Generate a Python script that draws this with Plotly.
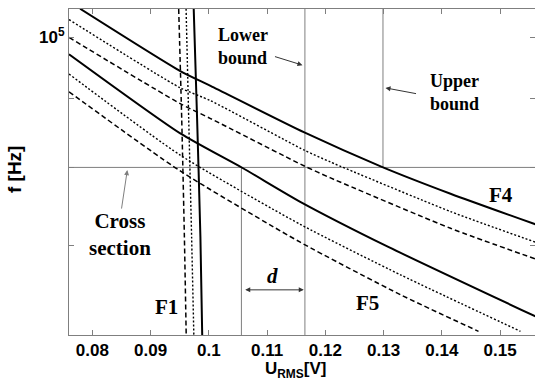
import plotly.graph_objects as go
import numpy as np

# ---- data ----
u_f4_solid = [0.0779, 0.0951, 0.1003, 0.1164, 0.1298, 0.1415, 0.1561]
f_f4_solid = [105050, 94390, 92020, 84950, 80050, 76470, 72550]
u_f4_dot = [0.0760, 0.0951, 0.1003, 0.1164, 0.1209, 0.1415, 0.1561]
f_f4_dot = [103110, 91710, 89710, 82400, 80740, 74160, 70360]
u_f4_dash = [0.0760, 0.0951, 0.1003, 0.1164, 0.1209, 0.1415, 0.1561]
f_f4_dash = [100000, 89250, 87000, 80190, 78570, 72060, 68360]

u_f5_solid = [0.0760, 0.0951, 0.1058, 0.1157, 0.1309, 0.1561]
f_f5_solid = [97150, 84810, 79920, 75420, 69770, 61940]
u_f5_dot = [0.0760, 0.0951, 0.1157, 0.1329, 0.1535]
f_f5_dot = [93910, 81700, 72550, 66530, 60380]
u_f5_dash = [0.0760, 0.0951, 0.1157, 0.1329, 0.1463]
f_f5_dash = [91090, 79510, 70360, 64300, 60380]

f_f1 = [105050, 87000, 70990, 60000]
u_f1_dash = [0.09483, 0.09535, 0.09581, 0.09612]
u_f1_dot = [0.09610, 0.09655, 0.09705, 0.09743]
u_f1_solid = [0.09741, 0.09799, 0.09856, 0.09887]

cross_f = 80000
lower_bound_u = 0.1165
upper_bound_u = 0.1299
d_left_u = 0.1056

x_range = [0.076, 0.156]
f_range = [60000, 105000]
x_ticks = [0.08, 0.09, 0.10, 0.11, 0.12, 0.13, 0.14, 0.15]
x_ticktext = ["0.08", "0.09", "0.1", "0.11", "0.12", "0.13", "0.14", "0.15"]
y_ticks = [70000, 80000, 90000, 100000]
y_ticktext = ["", "", "", "10<sup>5</sup>"]

fig = go.Figure()

def add(u, f, dash, width):
    fig.add_trace(go.Scatter(x=u, y=f, mode="lines",
                             line=dict(color="black", width=width, dash=dash, shape="spline", smoothing=0.6),
                             showlegend=False, hoverinfo="skip"))

grey = "#7f7f7f"
# reference lines
fig.add_trace(go.Scatter(x=x_range, y=[cross_f, cross_f], mode="lines",
                         line=dict(color=grey, width=1), showlegend=False, hoverinfo="skip"))
fig.add_trace(go.Scatter(x=[lower_bound_u, lower_bound_u], y=f_range, mode="lines",
                         line=dict(color=grey, width=1), showlegend=False, hoverinfo="skip"))
fig.add_trace(go.Scatter(x=[upper_bound_u, upper_bound_u], y=[cross_f, f_range[1]], mode="lines",
                         line=dict(color=grey, width=1), showlegend=False, hoverinfo="skip"))
fig.add_trace(go.Scatter(x=[d_left_u, d_left_u], y=[f_range[0], cross_f], mode="lines",
                         line=dict(color=grey, width=1), showlegend=False, hoverinfo="skip"))

add(u_f4_solid, f_f4_solid, "solid", 2)
add(u_f4_dot, f_f4_dot, "2px,2px", 1.4)
add(u_f4_dash, f_f4_dash, "5px,3px", 1.5)
add(u_f5_solid, f_f5_solid, "solid", 2)
add(u_f5_dot, f_f5_dot, "2px,2px", 1.4)
add(u_f5_dash, f_f5_dash, "5px,3px", 1.5)
add(u_f1_dash, f_f1, "5px,3px", 1.5)
add(u_f1_dot, f_f1, "2px,2px", 1.4)
add(u_f1_solid, f_f1, "solid", 2)

serif = dict(family="Liberation Serif", size=18, color="black", weight="bold")
lab = dict(family="Liberation Serif", size=21, color="black", weight="bold")
ann = []
ann.append(dict(x=0.10131, y=4.99336, text="Lower<br>bound", xanchor="left", yanchor="middle",
                align="left", showarrow=False, font=serif))
ann.append(dict(x=0.13756, y=4.95867, text="Upper<br>bound", xanchor="left", yanchor="middle",
                align="left", showarrow=False, font=serif))
ann.append(dict(x=0.08481, y=4.85314, text="Cross<br>section", xanchor="center", yanchor="middle",
                align="center", showarrow=False, font=dict(family="Liberation Serif", size=21, color="black", weight="bold")))
ann.append(dict(x=0.09271, y=4.79926, text="F1", showarrow=False, font=lab))
ann.append(dict(x=0.15010, y=4.88266, text="F4", showarrow=False, font=lab))
ann.append(dict(x=0.12725, y=4.80221, text="F5", showarrow=False, font=lab))
ann.append(dict(x=0.11093, y=4.82214, text="<i>d</i>", showarrow=False,
                font=dict(family="Liberation Serif", size=21, color="black", weight="bold")))
# arrows
arrow = dict(text="", showarrow=True, arrowhead=2, arrowsize=1, arrowwidth=1, arrowcolor="#333")
ann.append(dict(x=0.11608, y=4.97934, ax=-29, ay=-9, **arrow))
ann.append(dict(x=0.13034, y=4.96236, ax=32, ay=6, **arrow))
ann.append(dict(x=0.08601, y=4.90111, ax=-6, ay=40, **dict(arrow, arrowcolor=grey)))
ann.append(dict(x=0.11630, y=4.81181, ax=-60, ay=0, arrowside="end+start", **arrow))
# axis titles
ann.append(dict(xref="paper", yref="paper", x=-0.118, y=0.506, text="f [Hz]", textangle=-90,
                xanchor="center", yanchor="middle",
                showarrow=False, font=dict(family="Liberation Sans", size=19, color="black", weight="bold")))
ann.append(dict(xref="paper", yref="paper", x=0.487, y=-0.107, text="U<sub>RMS</sub>[V]",
                xanchor="center", yanchor="middle",
                showarrow=False, font=dict(family="Liberation Sans", size=17, color="black", weight="bold")))

fig.update_layout(width=535, height=382, margin=dict(l=69, r=0, t=9, b=47, autoexpand=False),
                  plot_bgcolor="white", paper_bgcolor="white", annotations=ann)
fig.update_xaxes(range=x_range, tickvals=x_ticks, ticktext=x_ticktext, ticks="inside", ticklen=5,
                 tickcolor=grey, showline=True, linecolor=grey, linewidth=1, mirror="ticks",
                 showgrid=False, zeroline=False, automargin=False,
                 tickfont=dict(family="Liberation Sans", size=17, color="black", weight="bold"))
fig.update_yaxes(type="log", range=[np.log10(f_range[0]), np.log10(f_range[1])], tickvals=y_ticks,
                 ticktext=y_ticktext, ticks="inside", ticklen=5, tickcolor=grey, showline=True,
                 linecolor=grey, linewidth=1, mirror="ticks", showgrid=False, zeroline=False,
                 automargin=False,
                 tickfont=dict(family="Liberation Sans", size=17, color="black", weight="bold"))

fig.write_html("out.html", config={"displayModeBar": False},
               post_script="document.body.style.margin='0px';document.body.style.overflow='hidden';")
